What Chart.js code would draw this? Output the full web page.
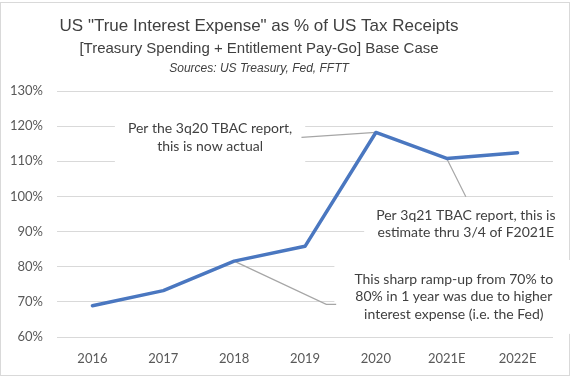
<!DOCTYPE html>
<html>
<head>
<meta charset="utf-8">
<script src="https://cdn.jsdelivr.net/npm/chart.js@4"></script>
<style>
  html, body { margin: 0; padding: 0; background: #fff; }
  #wrap { position: relative; width: 575px; height: 377px; }
</style>
</head>
<body>
<div id="wrap"><canvas id="c" width="575" height="377"></canvas></div>
<script>
const categories = ["2016", "2017", "2018", "2019", "2020", "2021E", "2022E"];
const interestPct = [68.9, 73.2, 81.6, 85.8, 118.2, 110.8, 112.4];
const yTicks = [60, 70, 80, 90, 100, 110, 120, 130];

const titleLines = [
  { text: 'US "True Interest Expense" as % of US Tax Receipts', font: '17px "Liberation Sans", Arial, sans-serif', y: 26 },
  { text: '[Treasury Spending + Entitlement Pay-Go] Base Case', font: '15px "Liberation Sans", Arial, sans-serif', y: 48.5 },
  { text: 'Sources: US Treasury, Fed, FFTT', font: 'italic 12px "Liberation Sans", Arial, sans-serif', y: 69 }
];

// annotations: text anchored in data coordinates (category index, value)
const notes = [
  { lines: ["Per the 3q20 TBAC report,", "this is now actual"], x: 1.66, y: [119.2, 114.3], padX: 13, padY: 10,
    leader: [[2.95, 116.8], [4, null]] },
  { lines: ["Per 3q21 TBAC report, this is", "estimate thru 3/4 of F2021E"], x: 5.27, y: [94.7, 89.6], padX: 12, padY: 8,
    leader: [[5, null], [5.27, 99.9]] },
  { lines: ["This sharp ramp-up from 70% to", "80% in 1 year was due to higher", "interest expense (i.e. the Fed)"], x: 5.10, y: [76.5, 71.4, 66.3], padX: 20, padY: 11,
    leader: [[2, null], [3.30, 69.3], [3.44, 69.3]] }
];

const noteFont = '14px Lato, "Open Sans", sans-serif';

const titlePlugin = {
  id: 'titles',
  beforeDraw(chart) {
    const ctx = chart.ctx;
    ctx.save();
    ctx.fillStyle = '#fff';
    ctx.fillRect(0, 0, chart.width, chart.height);
    ctx.strokeStyle = '#d9d9d9';
    ctx.lineWidth = 1;
    ctx.strokeRect(0.5, 2.5, 569, 373);
    ctx.fillStyle = '#404040';
    ctx.textAlign = 'center';
    ctx.textBaseline = 'middle';
    titleLines.forEach(t => {
      ctx.font = t.font;
      ctx.fillText(t.text, 259, t.y);
    });
    ctx.restore();
  }
};

const notePlugin = {
  id: 'notes',
  beforeDatasetsDraw(chart) {
    const ctx = chart.ctx;
    const xs = chart.scales.x, ys = chart.scales.y;
    const px = i => {
      const lo = Math.floor(i), hi = Math.ceil(i);
      const a = xs.getPixelForValue(lo), b = xs.getPixelForValue(hi);
      return a + (b - a) * (i - lo);
    };
    ctx.save();
    ctx.font = noteFont;
    notes.forEach(n => {
      const cx = px(n.x);
      const w = Math.max(...n.lines.map(l => ctx.measureText(l).width));
      const yTop = ys.getPixelForValue(n.y[0]) - 8 - n.padY;
      const yBot = ys.getPixelForValue(n.y[n.y.length - 1]) + 8 + n.padY;
      ctx.fillStyle = '#fff';
      ctx.fillRect(cx - w / 2 - n.padX, yTop, w + 2 * n.padX, yBot - yTop);
      // leader
      ctx.strokeStyle = '#a6a6a6';
      ctx.lineWidth = 1.2;
      ctx.beginPath();
      n.leader.forEach((p, k) => {
        const xv = px(p[0]);
        const yv = ys.getPixelForValue(p[1] === null ? interestPct[p[0]] : p[1]);
        if (k === 0) ctx.moveTo(xv, yv); else ctx.lineTo(xv, yv);
      });
      ctx.stroke();
      ctx.fillStyle = '#404040';
      ctx.textAlign = 'center';
      ctx.textBaseline = 'middle';
      n.lines.forEach((l, k) => ctx.fillText(l, cx, ys.getPixelForValue(n.y[k])));
    });
    ctx.restore();
  }
};

new Chart(document.getElementById('c'), {
  type: 'line',
  data: {
    labels: categories,
    datasets: [{
      data: interestPct,
      borderColor: '#4a77c0',
      borderWidth: 3.5,
      pointRadius: 0,
      tension: 0,
      fill: false,
      borderCapStyle: 'round',
      borderJoinStyle: 'round'
    }]
  },
  options: {
    responsive: false,
    animation: false,
    layout: { padding: { top: 91, right: 22, left: 0, bottom: 0 } },
    plugins: { legend: { display: false }, title: { display: false }, tooltip: { enabled: false } },
    scales: {
      x: {
        offset: true,
        grid: { display: false, drawTicks: false },
        border: { display: false },
        ticks: { color: '#595959', font: { family: 'Lato, "Open Sans", sans-serif', size: 13 }, padding: 14, maxRotation: 0 },
        afterFit(s) { s.height = 40; }
      },
      y: {
        min: yTicks[0],
        max: yTicks[yTicks.length - 1],
        afterBuildTicks(s) { s.ticks = yTicks.map(v => ({ value: v })); },
        grid: { color: '#d9d9d9', lineWidth: 1, drawTicks: false },
        border: { display: false },
        ticks: { color: '#595959', font: { family: 'Lato, "Open Sans", sans-serif', size: 13 }, padding: 14, callback: v => v + '%' },
        afterFit(s) { s.width = 57; }
      }
    }
  },
  plugins: [titlePlugin, notePlugin]
});
</script>
</body>
</html>
